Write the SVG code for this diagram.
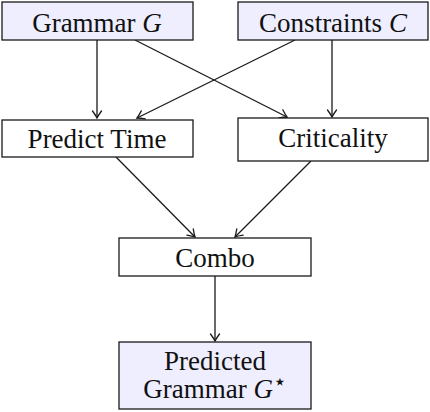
<svg xmlns="http://www.w3.org/2000/svg" width="430" height="412" viewBox="0 0 430 412">
<style>
.box{stroke:#1a1a1a;stroke-width:1.3}
.in{fill:#eeeeff}
.mid{fill:#ffffff}
text{font-family:"Liberation Serif","Times New Roman",serif;font-size:27px;fill:#111;text-anchor:middle}
.it{font-style:italic}
.edge{stroke:#1a1a1a;stroke-width:1.3;fill:none;marker-end:url(#ah)}
</style>
<defs>
<marker id="ah" markerUnits="userSpaceOnUse" markerWidth="14" markerHeight="14" refX="0" refY="0" viewBox="-10 -7 14 14" orient="auto">
<path d="M -7 -4.5 Q -2.5 -1.2 0 0 Q -2.5 1.2 -7 4.5" fill="none" stroke="#1a1a1a" stroke-width="1.3" stroke-linecap="round"/>
</marker>
</defs>
<g id="connectors">
<path class="edge" d="M 97 40 L 97 118"/>
<path class="edge" d="M 135 40 L 287 117"/>
<path class="edge" d="M 295 40 L 137 118"/>
<path class="edge" d="M 332 40 L 332 117"/>
<path class="edge" d="M 116 157 L 195 237"/>
<path class="edge" d="M 311 161 L 235 237"/>
<path class="edge" d="M 215 276 L 215 341"/>
</g>
<g id="grammar">
<rect class="box in" x="2" y="2" width="191" height="38"/>
<text x="97" y="32">Grammar <tspan class="it">G</tspan></text>
</g>
<g id="constraints">
<rect class="box in" x="238" y="2" width="190" height="38"/>
<text x="333" y="32">Constraints <tspan class="it">C</tspan></text>
</g>
<g id="predict-time">
<rect class="box mid" x="2" y="120" width="191" height="37"/>
<text x="97" y="148">Predict Time</text>
</g>
<g id="criticality">
<rect class="box mid" x="238" y="118" width="190" height="43"/>
<text x="333" y="147">Criticality</text>
</g>
<g id="combo">
<rect class="box mid" x="119" y="238" width="192" height="38"/>
<text x="215" y="267">Combo</text>
</g>
<g id="predicted">
<rect class="box in" x="119" y="342" width="192" height="67"/>
<text x="215" y="370">Predicted</text>
<text x="215" y="398">Grammar <tspan class="it">G</tspan><tspan font-family="DejaVu Sans,sans-serif" font-size="22" dy="-9">⋆</tspan></text>
</g>
</svg>
